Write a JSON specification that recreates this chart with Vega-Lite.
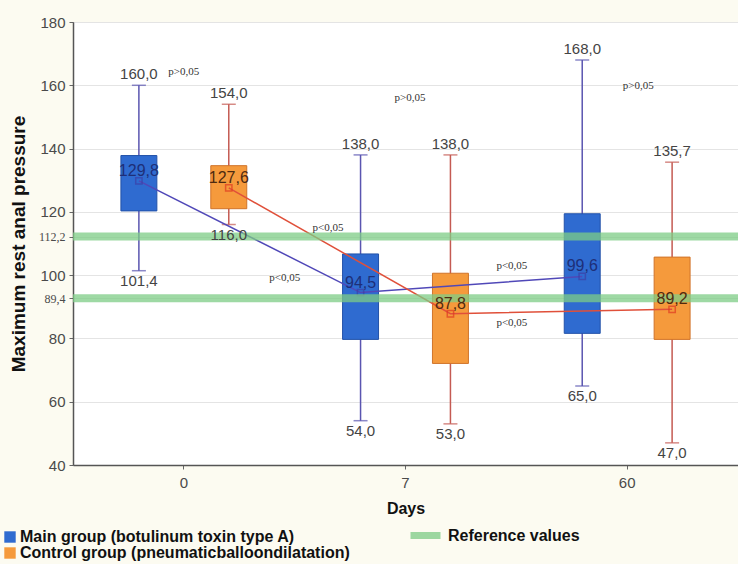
{
  "$schema": "https://vega.github.io/schema/vega-lite/v6.json",
  "width": 665,
  "height": 443,
  "autosize": {"type": "none"},
  "padding": {"left": 73, "top": 22, "right": 0, "bottom": 99},
  "background": "#fcfbf1",
  "config": {
    "locale": {"number": {"decimal": ",", "thousands": ".", "grouping": [3], "currency": ["", ""]}},
    "view": {"stroke": "#666", "fill": "white", "strokeWidth": 1},
    "axis": {"domainColor": "#555", "domainWidth": 1.5, "tickColor": "#666", "gridColor": "#e4e4e4", "labelFont": "Liberation Sans", "titleFont": "Liberation Sans"},
    "text": {"font": "Liberation Sans"}
  },
  "datasets": {
    "stats": [
      {"day": "0", "group": "Main group (botulinum toxin type A)", "min": 101.4, "q1": 120.3, "q3": 137.8, "max": 160.0, "mean": 129.8},
      {"day": "0", "group": "Control group (pneumaticballoondilatation)", "min": 116.0, "q1": 121.0, "q3": 134.6, "max": 154.0, "mean": 127.6},
      {"day": "7", "group": "Main group (botulinum toxin type A)", "min": 54.0, "q1": 79.7, "q3": 106.7, "max": 138.0, "mean": 94.5},
      {"day": "7", "group": "Control group (pneumaticballoondilatation)", "min": 53.0, "q1": 72.1, "q3": 100.6, "max": 138.0, "mean": 87.8},
      {"day": "60", "group": "Main group (botulinum toxin type A)", "min": 65.0, "q1": 81.6, "q3": 119.4, "max": 168.0, "mean": 99.6},
      {"day": "60", "group": "Control group (pneumaticballoondilatation)", "min": 47.0, "q1": 79.7, "q3": 105.7, "max": 135.7, "mean": 89.2}
    ],
    "refs": [
      {"y": 112.2, "name": "Reference values"},
      {"y": 92.7, "name": "Reference values"}
    ],
    "pvals": [
      {"u": 0.0, "y": 164.1, "text": "p>0,05"},
      {"u": 1.02, "y": 155.9, "text": "p>0,05"},
      {"u": 2.05, "y": 159.7, "text": "p>0,05"},
      {"u": 0.65, "y": 114.9, "text": "p<0,05"},
      {"u": 0.455, "y": 99.0, "text": "p<0,05"},
      {"u": 1.48, "y": 102.9, "text": "p<0,05"},
      {"u": 1.48, "y": 84.8, "text": "p<0,05"}
    ]
  },
  "layer": [
    {
      "layer": [
        {
          "data": {"name": "stats"},
          "mark": {"type": "rule", "strokeWidth": 1.5},
          "encoding": {
            "x": {"field": "day", "type": "nominal", "scale": {"domain": ["0", "7", "60"], "paddingInner": 0, "paddingOuter": 0},
              "axis": {"title": "Days", "titleFontSize": 16, "titleFontWeight": "bold", "titleColor": "#111", "labelFontSize": 15, "labelColor": "#4a4a4a", "labelAngle": 0, "tickSize": 4, "labelPadding": 6, "titlePadding": 10, "grid": false}},
            "xOffset": {"field": "group", "type": "nominal", "scale": {"domain": ["Main group (botulinum toxin type A)", "Control group (pneumaticballoondilatation)"], "paddingInner": 0.6, "paddingOuter": 0.533}},
            "y": {"field": "min", "type": "quantitative", "scale": {"domain": [40, 180], "nice": false, "zero": false},
              "axis": {"title": "Maximum rest anal pressure", "titleFontSize": 19, "titleFontWeight": "bold", "titleColor": "#111", "titlePadding": 10,
                "values": [40, 60, 80, 100, 120, 140, 160, 180, 112.2, 92.7],
                "labelExpr": "datum.value == 92.7 ? '89,4' : (datum.value == 112.2 ? '112,2' : datum.label)",
                "labelFont": {"condition": {"test": "datum.value == 92.7 || datum.value == 112.2", "value": "Liberation Serif"}, "value": "Liberation Sans"},
                "labelFontSize": {"condition": {"test": "datum.value == 92.7 || datum.value == 112.2", "value": 12}, "value": 15},
                "labelColor": "#4a4a4a", "labelOverlap": false, "tickSize": 4, "labelPadding": 4, "grid": true}},
            "y2": {"field": "max"},
            "color": {"condition": {"test": "indexof(datum.group,'Main') === 0", "value": "#5a55b0"}, "value": "#c45a52"}
          }
        },
        {
          "data": {"name": "stats"},
          "mark": {"type": "tick", "thickness": 1.5, "size": 14},
          "encoding": {
            "x": {"field": "day", "type": "nominal"},
            "xOffset": {"field": "group", "type": "nominal"},
            "y": {"field": "min", "type": "quantitative"},
            "color": {"condition": {"test": "indexof(datum.group,'Main') === 0", "value": "#5a55b0"}, "value": "#c45a52"}
          }
        },
        {
          "data": {"name": "stats"},
          "mark": {"type": "tick", "thickness": 1.5, "size": 14},
          "encoding": {
            "x": {"field": "day", "type": "nominal"},
            "xOffset": {"field": "group", "type": "nominal"},
            "y": {"field": "max", "type": "quantitative"},
            "color": {"condition": {"test": "indexof(datum.group,'Main') === 0", "value": "#5a55b0"}, "value": "#c45a52"}
          }
        },
        {
          "data": {"name": "stats"},
          "mark": {"type": "bar", "strokeWidth": 1, "opacity": 1},
          "encoding": {
            "x": {"field": "day", "type": "nominal"},
            "xOffset": {"field": "group", "type": "nominal"},
            "y": {"field": "q1", "type": "quantitative"},
            "y2": {"field": "q3"},
            "fill": {"field": "group", "type": "nominal",
              "scale": {"domain": ["Main group (botulinum toxin type A)", "Control group (pneumaticballoondilatation)"], "range": ["#2f6bd0", "#f59a3c"]},
              "legend": {"orient": "none", "legendX": -71, "legendY": 507, "title": null, "symbolType": "square", "symbolSize": 130, "symbolStrokeWidth": 0, "labelFont": "Liberation Sans", "labelFontSize": 16, "labelFontWeight": "bold", "labelColor": "#111", "rowPadding": 0, "labelOffset": 2, "labelLimit": 400}},
            "stroke": {"condition": {"test": "indexof(datum.group,'Main') === 0", "value": "#2352a8"}, "value": "#d0742a"}
          }
        },
        {
          "data": {"name": "stats"},
          "mark": {"type": "line", "strokeWidth": 1.5},
          "encoding": {
            "x": {"field": "day", "type": "nominal"},
            "xOffset": {"field": "group", "type": "nominal"},
            "y": {"field": "mean", "type": "quantitative"},
            "detail": {"field": "group", "type": "nominal"},
            "color": {"condition": {"test": "indexof(datum.group,'Main') === 0", "value": "#5048b8"}, "value": "#e0503a"}
          }
        },
        {
          "data": {"name": "stats"},
          "mark": {"type": "point", "shape": "square", "size": 40, "filled": false, "strokeWidth": 1.5},
          "encoding": {
            "x": {"field": "day", "type": "nominal"},
            "xOffset": {"field": "group", "type": "nominal"},
            "y": {"field": "mean", "type": "quantitative"},
            "color": {"condition": {"test": "indexof(datum.group,'Main') === 0", "value": "#3c40a8"}, "value": "#e03a22"}
          }
        },
        {
          "data": {"name": "refs"},
          "mark": {"type": "rule", "strokeWidth": 8, "opacity": 0.75},
          "encoding": {
            "y": {"field": "y", "type": "quantitative"},
            "stroke": {"field": "name", "type": "nominal", "scale": {"range": ["#7dcc86"]},
              "legend": {"orient": "none", "legendX": 334, "legendY": 495, "title": null, "symbolType": "stroke", "symbolStrokeWidth": 7, "symbolSize": 900, "labelFont": "Liberation Sans", "labelFontSize": 16, "labelFontWeight": "bold", "labelColor": "#111", "labelOffset": 4}}
          }
        },
        {
          "data": {"name": "stats"},
          "mark": {"type": "text", "baseline": "bottom", "dy": -3, "fontSize": 15, "color": "#444"},
          "encoding": {
            "x": {"field": "day", "type": "nominal"},
            "xOffset": {"field": "group", "type": "nominal"},
            "y": {"field": "max", "type": "quantitative"},
            "text": {"field": "max", "type": "quantitative", "format": ".1f"}
          }
        },
        {
          "data": {"name": "stats"},
          "mark": {"type": "text", "baseline": "top", "dy": 3, "fontSize": 15, "color": "#444"},
          "encoding": {
            "x": {"field": "day", "type": "nominal"},
            "xOffset": {"field": "group", "type": "nominal"},
            "y": {"field": "min", "type": "quantitative"},
            "text": {"field": "min", "type": "quantitative", "format": ".1f"}
          }
        },
        {
          "data": {"name": "stats"},
          "mark": {"type": "text", "baseline": "bottom", "dy": -2, "fontSize": 16},
          "encoding": {
            "x": {"field": "day", "type": "nominal"},
            "xOffset": {"field": "group", "type": "nominal"},
            "y": {"field": "mean", "type": "quantitative"},
            "text": {"field": "mean", "type": "quantitative", "format": ".1f"},
            "color": {"condition": {"test": "indexof(datum.group,'Main') === 0", "value": "#1e2f78"}, "value": "#4e2a10"}
          }
        }
      ]
    },
    {
      "data": {"name": "pvals"},
      "mark": {"type": "text", "font": "Liberation Serif", "fontSize": 11, "color": "#333"},
      "encoding": {
        "x": {"field": "u", "type": "quantitative", "scale": {"domain": [-0.5, 2.5], "nice": false, "zero": false}, "axis": null},
        "y": {"field": "y", "type": "quantitative"},
        "text": {"field": "text"}
      }
    }
  ],
  "resolve": {"scale": {"x": "independent"}}
}
